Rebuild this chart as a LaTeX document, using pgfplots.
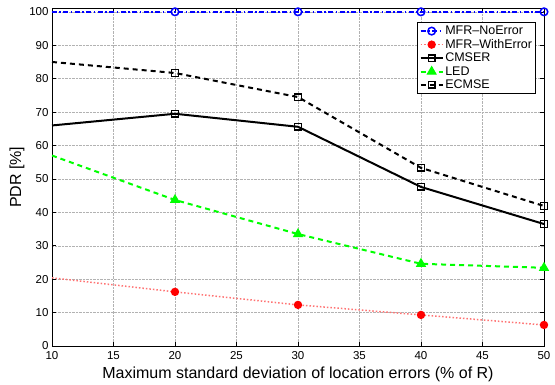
\documentclass[border=0pt]{standalone}
\usepackage{fontspec}
\setmainfont{Liberation Sans}
\usepackage{pgfplots}
\pgfplotsset{compat=1.18}
\begin{document}
\begin{tikzpicture}[x=1pt,y=1pt]
\useasboundingbox (-52,-38) rectangle (503,346);
\begin{axis}[
  scale only axis, width=492pt, height=337.5pt,
  xmin=10, xmax=50, ymin=0, ymax=101,
  xtick={10,15,...,50}, ytick={0,10,...,100},
  grid=major,
  grid style={densely dotted, gray!60, line width=0.5pt},
  tick align=inside, tick pos=both,
  major tick length=4pt,
  axis line style={line width=0.9pt},
  every tick/.style={black, line width=0.6pt},
  tick label style={font=\fontsize{11.5}{13}\selectfont},
  xticklabel style={yshift=-2pt},
  /pgf/number format/assume math mode=true,
  xlabel={Maximum standard deviation of location errors (\% of R)},
  ylabel={PDR [\%]},
  label style={font=\fontsize{16}{18}\selectfont},
  xlabel style={at={(axis description cs:0.5,0)}, anchor=north, yshift=-17pt},
  ylabel style={at={(axis description cs:0,0.5)}, anchor=south, yshift=24pt},
  legend style={at={(0.984,0.960)}, anchor=north east, draw=black, line width=0.9pt,
    font=\fontsize{12.5}{14}\selectfont, inner xsep=2pt, inner ysep=2pt, row sep=0pt, fill=white,
    nodes={inner sep=1.6pt}},
  legend cell align=left,
  legend image code/.code={\draw[#1, mark indices={2}] plot coordinates {(0pt,0pt) (11pt,0pt) (22pt,0pt)};},
]
\addplot[blue, line width=2pt, dash pattern=on 5pt off 2.5pt on 1.5pt off 2.5pt,
  mark=o, mark size=3.8pt, mark options={solid, line width=1.5pt}, mark indices={2,3,4,5}]
  coordinates {(10,100) (20,100) (30,100) (40,100) (50,100)};
\addlegendentry{MFR--NoError}
\addplot[red!55, line width=1.5pt, dotted,
  mark=*, mark size=3.4pt, mark options={solid, fill=red, draw=red}, mark indices={2,3,4,5}]
  coordinates {(10,20.4) (20,16.2) (30,12.3) (40,9.3) (50,6.3)};
\addlegendentry{MFR--WithError}
\addplot[black, line width=2pt, solid,
  mark=square, mark size=3.3pt, mark options={solid, line width=1.5pt}, mark indices={2,3,4,5}]
  coordinates {(10,66) (20,69.5) (30,65.6) (40,47.6) (50,36.5)};
\addlegendentry{CMSER}
\addplot[green, line width=2pt, dash pattern=on 5pt off 4pt,
  mark=triangle*, mark size=5pt, mark options={solid, fill=green, draw=green, line width=1pt}, mark indices={2,3,4,5}]
  coordinates {(10,57) (20,43.7) (30,33.5) (40,24.6) (50,23.4)};
\addlegendentry{LED}
\addplot[black, line width=2pt, dash pattern=on 5pt off 4pt,
  mark=square, mark size=3.3pt, mark options={solid, line width=1.5pt}, mark indices={2,3,4,5}]
  coordinates {(10,85) (20,81.7) (30,74.5) (40,53.3) (50,41.9)};
\addlegendentry{ECMSE}
\end{axis}
\end{tikzpicture}
\end{document}
